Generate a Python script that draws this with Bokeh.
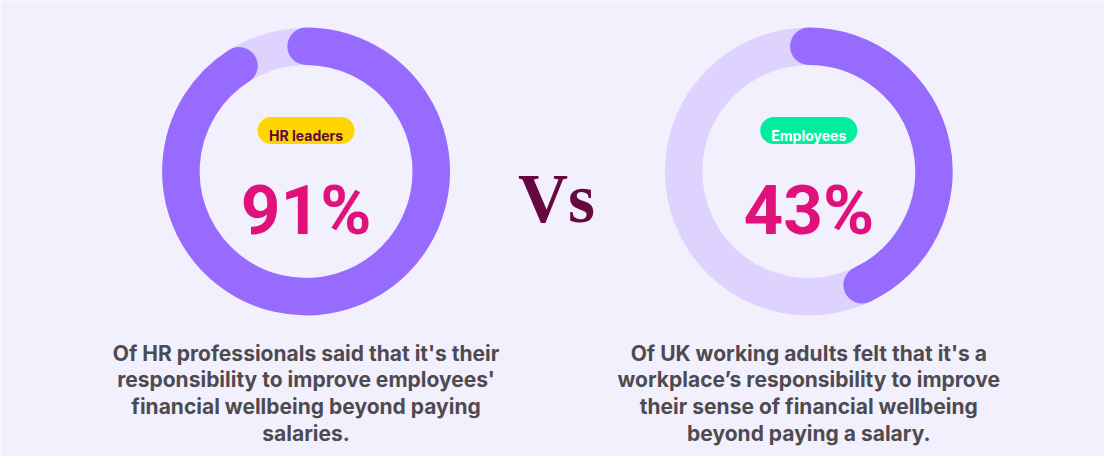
import numpy as np
from bokeh.plotting import figure
from bokeh.models import Range1d
from bokeh.embed import file_html
from bokeh.resources import INLINE
from bokeh.core.properties import value

# ---- data ----
groups = ["HR leaders", "Employees"]
percents = [91, 43]
pill_colors = ["#ffd500", "#00ee9d"]
pill_text_colors = ["#5c0b3f", "#ffffff"]
descriptions = [
    ["Of HR professionals said that it's their",
     "responsibility to improve employees'",
     "financial wellbeing beyond paying",
     "salaries."],
    ["Of UK working adults felt that it's a",
     "workplace\u2019s responsibility to improve",
     "their sense of financial wellbeing",
     "beyond paying a salary."],
]
vs_label = "Vs"

# ---- layout constants (reference pixel coords -> data coords) ----
IMG_W, IMG_H = 1120, 472
FIG_W, FIG_H = 1104, 456
S = (FIG_W / IMG_W + FIG_H / IMG_H) / 2

def Y(py):
    return IMG_H - py

def px(v):
    return f"{v * S:.1f}px"

BG = "#f3f0fd"
TRACK = "#ddd3fe"
ARC = "#986bff"
NUM = "#e0117a"
DESC = "#4e4b50"
VS = "#66073f"

cx = [310, 820]
cy = Y(177)
r_mid = 127
ring_w = 38

p = figure(width=FIG_W, height=FIG_H, x_range=Range1d(0, IMG_W), y_range=Range1d(0, IMG_H),
           output_backend="svg", toolbar_location=None, min_border=0,
           x_axis_location=None, y_axis_location=None)
p.grid.visible = False
p.outline_line_color = None
p.background_fill_color = BG
p.border_fill_color = BG

# tracks
p.annulus(x=cx, y=[cy] * 2, inner_radius=r_mid - ring_w / 2, outer_radius=r_mid + ring_w / 2,
          fill_color=TRACK, line_color=None)

# value arcs
starts = [np.pi / 2] * len(percents)
ends = [np.pi / 2 - 2 * np.pi * v / 100 for v in percents]
p.arc(x=cx, y=[cy] * 2, radius=r_mid, start_angle=starts, end_angle=ends,
      direction="clock", line_color=ARC, line_width=ring_w * FIG_W / IMG_W, line_cap="round")

# pills
pill_y = Y(134.5)
half = 35.5
p.segment(x0=[c - half for c in cx], y0=[pill_y] * 2, x1=[c + half for c in cx], y1=[pill_y] * 2,
          line_color=pill_colors, line_width=28 * FIG_H / IMG_H, line_cap="round")
p.text(x=cx, y=[Y(139.5)] * 2, text=groups, text_color=pill_text_colors,
       text_font=value("Inter"), text_font_style="bold", text_font_size=px(14.3),
       text_align="center", text_baseline="alphabetic")

# big numbers
p.text(x=cx, y=[Y(217)] * 2, text=[f"{v}%" for v in percents], text_color=NUM,
       text_font=value("Roboto"), text_font_style="bold", text_font_size=px(71),
       text_align="center", text_baseline="alphabetic")

# Vs
p.text(x=[564], y=[Y(205)], text=[vs_label], text_color=VS,
       text_font=value("Liberation Serif"), text_font_style="bold", text_font_size=px(71),
       text_align="center", text_baseline="alphabetic")

# descriptions
line_gap = 27.7
for i, lines in enumerate(descriptions):
    xs = [cx[i]] * len(lines)
    ys = [Y(365 + j * line_gap) for j in range(len(lines))]
    p.text(x=xs, y=ys, text=lines, text_color=DESC,
           text_font=value("Inter"), text_font_style="bold", text_font_size=px(21.5),
           text_align="center", text_baseline="alphabetic")

open("out.html", "w").write(file_html(p, INLINE))
